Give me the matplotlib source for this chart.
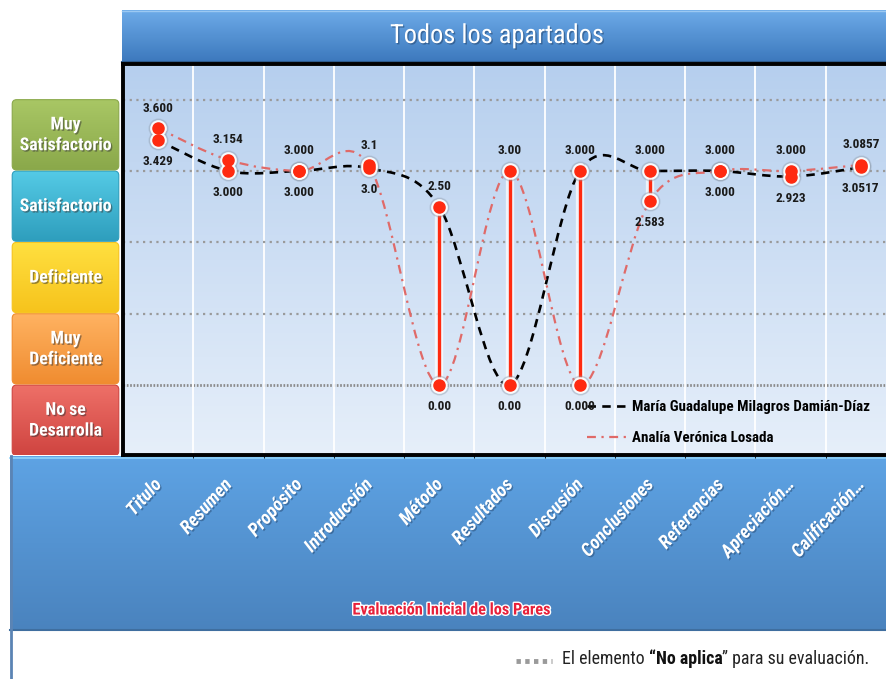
import matplotlib
matplotlib.use('Agg')
import matplotlib.pyplot as plt
import matplotlib.patheffects as pe
import matplotlib.transforms as mtransforms
from matplotlib.patches import FancyBboxPatch, Rectangle, PathPatch
from matplotlib.path import Path
from matplotlib.lines import Line2D
from matplotlib.colors import LinearSegmentedColormap
from matplotlib import font_manager as fm
import numpy as np

# data
categories = ['Titulo', 'Resumen', 'Propósito', 'Introducción', 'Método', 'Resultados',
              'Discusión', 'Conclusiones', 'Referencias', 'Apreciación…', 'Calificación…']
damian = [3.429, 3.000, 3.000, 3.04, 2.50, 0.00, 3.000, 3.000, 3.000, 2.923, 3.0517]
losada = [3.600, 3.154, 3.000, 3.08, 0.00, 3.00, 0.000, 2.583, 3.000, 3.000, 3.0857]
damian_labels = ['3.429', '3.000', '3.000', '3.0', '2.50', '0.00', '3.000', '3.000', '3.000', '2.923', '3.0517']
losada_labels = ['3.600', '3.154', '3.000', '3.1', '0.00', '3.00', '0.000', '2.583', '3.000', '3.000', '3.0857']
series_names = ['María Guadalupe Milagros Damián-Díaz', 'Analía Verónica Losada']
levels = ['No se\nDesarrolla', 'Muy\nDeficiente', 'Deficiente', 'Satisfactorio', 'Muy\nSatisfactorio']
level_colors = [('#ee7068', '#cf4440'), ('#ffb362', '#f08c30'), ('#ffe040', '#f6c31c'),
                ('#55cbe6', '#2e9ebd'), ('#a9c765', '#8aa84a')]

names = {f.name for f in fm.fontManager.ttflist}
NARROW = next((n for n in ['Roboto Condensed', 'Liberation Sans Narrow', 'Open Sans Condensed']
               if n in names), 'Lato')

W, H = 886, 679
fig = plt.figure(figsize=(W / 100, H / 100), dpi=100)
fig.patch.set_facecolor('white')


def gradient(ax, patch, c_top, c_bot, x0, x1, y_bot, y_top, z):
    ax.add_patch(patch)
    cmap = LinearSegmentedColormap.from_list('g', [c_bot, c_top])
    im = ax.imshow(np.linspace(0, 1, 256).reshape(-1, 1), cmap=cmap, origin='lower',
                   extent=[x0, x1, y_bot, y_top], aspect='auto', zorder=z, interpolation='bilinear')
    im.set_clip_path(patch)
    return im


# background decorations in pixel coordinates
bg = fig.add_axes([0, 0, 1, 1], zorder=0)
bg.set_axis_off()

# title band
r = Rectangle((122, 10), W - 122, 52, facecolor='none', edgecolor='none', zorder=1)
gradient(bg, r, '#6dabe8', '#3c78bd', 122, W, 62, 10, 1)
bg.plot([122, W], [61.5, 61.5], color='#2c5a8c', lw=1.5, zorder=2)
bg.plot([122, W], [11, 11], color='#9cc9f2', lw=1, zorder=2)
bg.text(497, 36, 'Todos los apartados', color='white', fontsize=19, family=NARROW,
        ha='center', va='center', zorder=3,
        path_effects=[pe.withSimplePatchShadow(offset=(1, -1), shadow_rgbFace='#1f3f66', alpha=0.5)])

# bottom axis band
r = Rectangle((10, 456), W - 10, 174, facecolor='none', edgecolor='none', zorder=1)
gradient(bg, r, '#5ea3e4', '#4a83be', 10, W, 630, 456, 1)
bg.plot([10, W], [458, 458], color='#8fd3fa', lw=1.2, zorder=2)
bg.plot([10, W], [630, 630], color='#3f6e9f', lw=1.5, zorder=2)
bg.plot([11, 11], [456, H], color='#5b84b4', lw=2, zorder=2)
bg.text(452, 610, 'Evaluación Inicial de los Pares', color='#e8203a', fontsize=11.7,
        fontweight='bold', family=NARROW, ha='center', va='center', zorder=3,
        path_effects=[pe.withStroke(linewidth=2, foreground='white')])

# "No aplica" note
bg.plot([516, 552], [661, 661], color='#9a9a9a', lw=3.5, ls=(0, (0.9, 0.9)), zorder=2)
t1 = bg.text(562, 668, 'El elemento ', fontsize=12.9, family=NARROW, color='#222222',
             ha='left', va='bottom', zorder=3)
t2 = bg.annotate('“No aplica', xy=(1, 0), xycoords=t1, fontsize=12.9, family=NARROW,
                 fontweight='bold', color='#111111', ha='left', va='bottom', zorder=3)
bg.annotate('” para su evaluación.', xy=(1, 0), xycoords=t2, fontsize=12.9, family=NARROW,
            color='#222222', ha='left', va='bottom', zorder=3)
bg.set_xlim(0, W)
bg.set_ylim(H, 0)

# main plot area
ax_l, ax_b = 123 / W, (H - 455) / H
ax_w, ax_h = 773 / W, 391 / H
ax = fig.add_axes([ax_l, ax_b, ax_w, ax_h], zorder=2)
ylo, yhi = -0.98, 4.5
x = np.arange(len(categories))

cmap = LinearSegmentedColormap.from_list('bgp', ['#e6effa', '#b6cfee'])
ax.imshow(np.linspace(0, 1, 256).reshape(-1, 1), cmap=cmap, origin='lower',
          extent=[0, 1, 0, 1], transform=ax.transAxes, aspect='auto', zorder=0)
ax.set_xlim(-0.5, len(categories) - 0.5)
ax.set_ylim(ylo, yhi)

ax.set_xticks(x)
ax.set_xticklabels([])
ax.set_xticks(np.arange(0.5, len(categories) - 0.5, 1), minor=True)
ax.grid(which='minor', axis='x', color='white', lw=1.3, zorder=1)
ax.set_yticks([1, 2, 3, 4])
ax.set_yticklabels([])
ax.grid(which='major', axis='y', color='#9a9a9a', lw=1.6, ls=(0, (1, 2)), zorder=1)
ax.axhline(0, color='#8a8a8a', lw=2, ls=(0, (0.6, 0.6)), zorder=1)
ax.tick_params(length=0)
for s in ['left', 'top', 'bottom']:
    ax.spines[s].set_linewidth(2.8)
    ax.spines[s].set_color('black')
ax.spines['right'].set_visible(False)


def smooth_path(xs, ys):
    pts = np.column_stack([xs, ys]).astype(float)
    ext = np.vstack([pts[0], pts, pts[-1]])
    verts = [pts[0]]
    codes = [Path.MOVETO]
    for i in range(len(pts) - 1):
        p0, p1, p2, p3 = ext[i], ext[i + 1], ext[i + 2], ext[i + 3]
        verts += [p1 + (p2 - p0) / 6, p2 - (p3 - p1) / 6, p2]
        codes += [Path.CURVE4] * 3
    return Path(verts, codes)


black_style = dict(color='black', lw=1.9, ls=(0, (3.2, 2.4)))
red_style = dict(color='#e06a68', lw=1.6, ls=(0, (4, 2.5, 1, 2.5)))
ax.add_patch(PathPatch(smooth_path(x, damian), fill=False, zorder=3, **black_style))
ax.add_patch(PathPatch(smooth_path(x, losada), fill=False, zorder=3, **red_style))

# high-low lines
glow = [pe.withStroke(linewidth=6, foreground='white', alpha=0.7)]
ax.vlines(x, np.minimum(damian, losada), np.maximum(damian, losada), color='#ff2a10',
          lw=2.4, zorder=4, path_effects=glow)

for vals in (damian, losada):
    ax.plot(x, vals, 'o', ms=13.5, color='#8f9cab', alpha=0.3, zorder=4, ls='none')
    ax.plot(x, vals, 'o', ms=11, color='white', alpha=0.85, zorder=5, ls='none')
    ax.plot(x, vals, 'o', ms=8, color='#ff2a10', zorder=6, ls='none', mec='#ff2a10')

# data labels: higher value above, lower below
for i in range(len(categories)):
    if losada[i] >= damian[i]:
        hi_v, hi_t, lo_v, lo_t = losada[i], losada_labels[i], damian[i], damian_labels[i]
    else:
        hi_v, hi_t, lo_v, lo_t = damian[i], damian_labels[i], losada[i], losada_labels[i]
    ax.annotate(hi_t, (i, hi_v), xytext=(0, 14.5), textcoords='offset points', ha='center',
                va='center', fontsize=9.5, fontweight='bold', family=NARROW, color='#1a1a1a', zorder=7)
    ax.annotate(lo_t, (i, lo_v), xytext=(0, -15.5), textcoords='offset points', ha='center',
                va='center', fontsize=9.5, fontweight='bold', family=NARROW, color='#1a1a1a', zorder=7)

# category labels
lab_tr = mtransforms.blended_transform_factory(ax.transData, ax.transAxes)
for i, name in enumerate(categories):
    ax.text(i + 0.01, -0.068, name, transform=lab_tr, rotation=48, rotation_mode='anchor',
            ha='right', va='center', color='white', fontsize=13.5, fontweight='bold',
            fontstyle='italic', family=NARROW, clip_on=False, zorder=8,
            path_effects=[pe.withSimplePatchShadow(offset=(1, -1), shadow_rgbFace='#1f3f66', alpha=0.45)])

handles = [Line2D([], [], **black_style), Line2D([], [], **red_style)]
ax.legend(handles, series_names, loc='lower left', bbox_to_anchor=(0.6, 0.025), frameon=False,
          handlelength=2.6, handletextpad=0.4, labelspacing=1.15, borderpad=0, borderaxespad=0,
          prop=fm.FontProperties(family=NARROW, weight='bold', size=10.8))

# left level boxes
lab_ax = fig.add_axes([10 / W, ax_b, 111 / W, ax_h], zorder=1)
lab_ax.set_axis_off()
for k, (name, (ct, cb)) in enumerate(zip(levels, level_colors)):
    y0, y1 = k - 0.985, k
    box = FancyBboxPatch((0.02, y0), 0.96, y1 - y0, boxstyle='round,pad=0,rounding_size=0.04',
                         mutation_aspect=1.55, facecolor='none', edgecolor=cb, lw=0.8, zorder=2)
    gradient(lab_ax, box, ct, cb, 0.02, 0.98, y0, y1, 1)
    lab_ax.text(0.5, (y0 + y1) / 2, name, ha='center', va='center', color='white',
                fontsize=12.8, fontweight='bold', family=NARROW, linespacing=1.2, zorder=3,
                path_effects=[pe.withSimplePatchShadow(offset=(1, -1), shadow_rgbFace='#333333', alpha=0.5)])
lab_ax.set_xlim(0, 1)
lab_ax.set_ylim(ylo, yhi)

fig.savefig('out.png', dpi=100)
